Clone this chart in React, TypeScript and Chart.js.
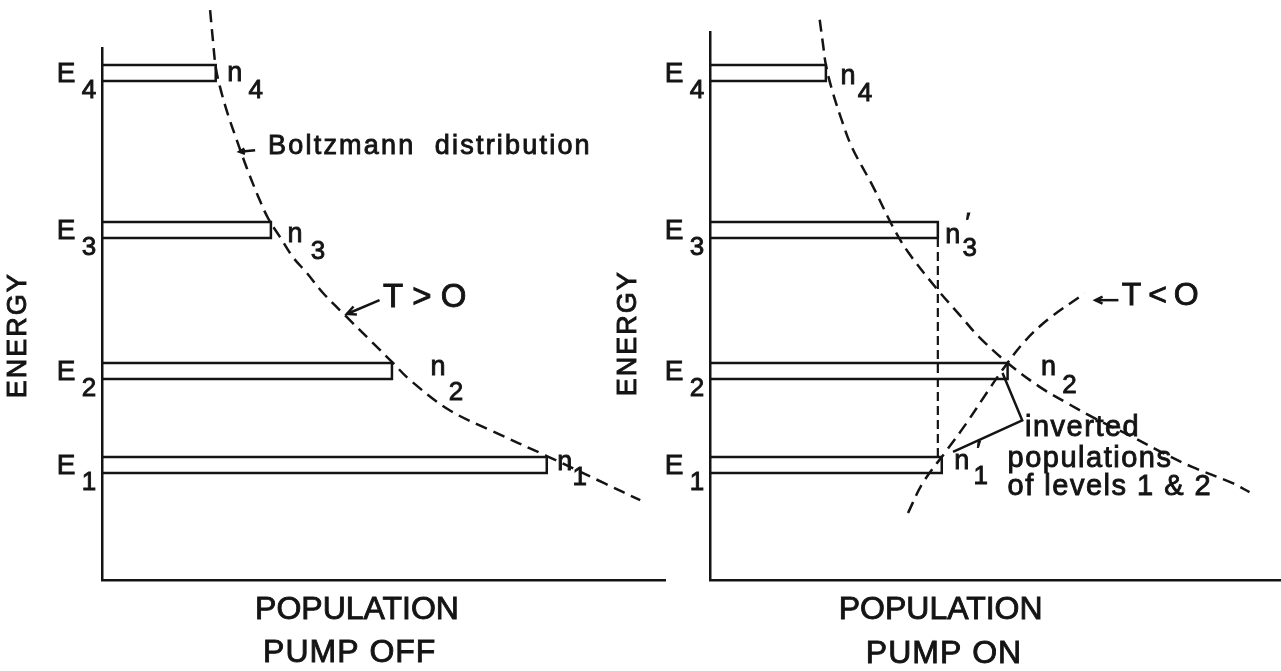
import React, { useEffect, useRef } from 'react';
import { Chart, registerables } from 'chart.js';

Chart.register(...registerables);

// ---------- data ----------
const levelSubscripts = ['1', '2', '3', '4'];
const levelEnergy = [2.16, 3.93, 6.58, 9.53];
const popPumpOff = [7.9, 5.15, 3.0, 2.02];
const popPumpOn = [4.12, 5.29, 4.05, 2.06];

const boltzOffX = [1.92, 1.97, 2.02, 2.1, 2.24, 2.4, 2.57, 2.77, 2.95, 3.16, 3.39, 3.64, 3.93, 4.35, 4.76, 5.15, 5.47, 6.16, 6.89, 7.9, 8.92, 9.56];
const boltzOffY = [10.71, 10.15, 9.64, 9.25, 8.74, 8.25, 7.75, 7.22, 6.8, 6.45, 6.07, 5.77, 5.39, 4.94, 4.51, 4.1, 3.76, 3.2, 2.82, 2.33, 1.82, 1.5];

const boltzOnX = [1.95, 2.01, 2.06, 2.17, 2.34, 2.52, 2.9, 3.25, 3.53, 4.05, 4.44, 4.78, 5.29, 5.86, 6.34, 6.8, 7.51, 8.05, 8.58, 9.29, 9.59];
const boltzOnY = [10.53, 10.06, 9.68, 9.21, 8.65, 8.14, 7.39, 6.64, 6.15, 5.45, 4.98, 4.57, 4.08, 3.63, 3.33, 3.06, 2.69, 2.39, 2.12, 1.82, 1.65];

const invertedX = [3.52, 3.78, 4.21, 4.56, 4.92, 5.2, 5.58, 6.0, 6.66];
const invertedY = [1.26, 1.82, 2.44, 2.95, 3.52, 3.95, 4.47, 4.89, 5.39];

const bracketX = [5.2, 5.55, 4.32];
const bracketY = [3.89, 3.0, 2.41];

// ---------- style ----------
const INK = '#141414';
const FONT = '"Liberation Sans", Arial, sans-serif';
const LEVEL_HALF = 0.15;

type Note =
  | { kind: 'text'; text: string; x: number; y: number; dx?: number; dy?: number; size: number; align?: CanvasTextAlign; ls?: number; rotate?: number }
  | { kind: 'arrow'; x1: number; y1: number; x2: number; y2: number; head?: number };

function notesPlugin(notes: Note[]) {
  return {
    id: 'notes',
    afterDatasetsDraw(chart: any) {
      const { ctx } = chart;
      const xs = chart.scales.x;
      const ys = chart.scales.y;
      ctx.save();
      ctx.fillStyle = INK;
      ctx.strokeStyle = INK;
      for (const n of notes) {
        if (n.kind === 'arrow') {
          const x1 = xs.getPixelForValue(n.x1);
          const y1 = ys.getPixelForValue(n.y1);
          const x2 = xs.getPixelForValue(n.x2);
          const y2 = ys.getPixelForValue(n.y2);
          const a = Math.atan2(y2 - y1, x2 - x1);
          const h = n.head ?? 9;
          ctx.lineWidth = 2.5;
          ctx.setLineDash([]);
          ctx.beginPath();
          ctx.moveTo(x1, y1);
          ctx.lineTo(x2, y2);
          ctx.stroke();
          ctx.beginPath();
          ctx.moveTo(x2 - h * Math.cos(a - 0.45), y2 - h * Math.sin(a - 0.45));
          ctx.lineTo(x2, y2);
          ctx.lineTo(x2 - h * Math.cos(a + 0.45), y2 - h * Math.sin(a + 0.45));
          ctx.stroke();
        } else {
          const px = xs.getPixelForValue(n.x) + (n.dx || 0);
          const py = ys.getPixelForValue(n.y) + (n.dy || 0);
          ctx.font = `${n.size}px ${FONT}`;
          (ctx as any).letterSpacing = `${n.ls || 0}px`;
          ctx.textAlign = n.align || 'center';
          ctx.textBaseline = 'middle';
          ctx.lineWidth = 0.9;
          ctx.setLineDash([]);
          ctx.save();
          ctx.translate(px, py);
          if (n.rotate) ctx.rotate(n.rotate);
          ctx.fillText(n.text, 0, 0);
          ctx.strokeText(n.text, 0, 0);
          ctx.restore();
        }
      }
      ctx.restore();
    },
  };
}

function levelDatasets(pops: number[]) {
  return pops.map((n, i) => ({
    data: [
      { x: 0, y: levelEnergy[i] + LEVEL_HALF },
      { x: n, y: levelEnergy[i] + LEVEL_HALF },
      { x: n, y: levelEnergy[i] - LEVEL_HALF },
      { x: 0, y: levelEnergy[i] - LEVEL_HALF },
    ],
    showLine: true,
    borderColor: INK,
    borderWidth: 2.5,
    pointRadius: 0,
    tension: 0,
    fill: false,
    clip: false as any,
  }));
}

function curveDataset(xs: number[], ys: number[], dash: number[], width = 2.5, tension = 0.35) {
  return {
    data: xs.map((x, i) => ({ x, y: ys[i] })),
    showLine: true,
    borderColor: INK,
    borderWidth: width,
    borderDash: dash,
    pointRadius: 0,
    tension,
    fill: false,
    clip: false as any,
  };
}

function levelLabelNotes(pops: number[], nOffsets: number[][], primes: boolean[]): Note[] {
  const out: Note[] = [];
  levelEnergy.forEach((e, i) => {
    out.push({ kind: 'text', text: 'E', x: 0, y: e, dx: -36, dy: 1, size: 28 });
    out.push({ kind: 'text', text: levelSubscripts[i], x: 0, y: e, dx: -13, dy: 18, size: 26 });
    const [ndx, ndy, sdx, sdy] = nOffsets[i];
    out.push({ kind: 'text', text: 'n', x: pops[i], y: e, dx: ndx, dy: ndy, size: 27 });
    out.push({ kind: 'text', text: levelSubscripts[i], x: pops[i], y: e, dx: sdx, dy: sdy, size: 26 });
    if (primes[i]) out.push({ kind: 'text', text: '\u2032', x: pops[i], y: e, dx: sdx - 2, dy: sdy - 25, size: 26 });
  });
  return out;
}

interface PanelProps {
  left: number;
  width: number;
  padding: { left: number; right: number; top: number; bottom: number };
  xMax: number;
  yMax: number;
  build: () => { datasets: any[]; notes: Note[] };
}

function Panel({ left, width, padding, xMax, yMax, build }: PanelProps) {
  const ref = useRef<HTMLCanvasElement>(null);
  useEffect(() => {
    const { datasets, notes } = build();
    const axis = (isX: boolean, max: number) => ({
      type: 'linear' as const,
      min: 0,
      max,
      ticks: { display: false },
      grid: { display: true, drawOnChartArea: false, drawTicks: false },
      border: { display: true, color: INK, width: 2.5 },
      afterFit: (s: any) => {
        if (isX) s.height = 0;
        else s.width = 0;
      },
    });
    const chart = new Chart(ref.current!, {
      type: 'scatter',
      data: { datasets },
      options: {
        animation: false,
        responsive: false,
        devicePixelRatio: 1,
        events: [],
        layout: { padding },
        plugins: { legend: { display: false }, tooltip: { enabled: false } },
        scales: { x: axis(true, xMax), y: axis(false, yMax) },
      },
      plugins: [notesPlugin(notes)],
    });
    return () => chart.destroy();
  }, []);
  return <canvas ref={ref} width={width} height={671} style={{ position: 'absolute', left, top: 0 }} />;
}

function buildOff() {
  const datasets = [
    ...levelDatasets(popPumpOff),
    curveDataset(boltzOffX, boltzOffY, [12, 7]),
  ];
  const notes: Note[] = [
    ...levelLabelNotes(
      popPumpOff,
      [
        [18, -3, 33, 13],
        [46, -3, 64, 22],
        [24, 5, 47, 22],
        [19, 1, 40, 18],
      ],
      [false, false, false, false]
    ),
    { kind: 'text', text: 'ENERGY', x: 0, y: 4.6, dx: -83, size: 27, ls: 2, rotate: -Math.PI / 2 },
    { kind: 'text', text: 'POPULATION', x: 4.53, y: 0, dy: 30, size: 32 },
    { kind: 'text', text: 'PUMP OFF', x: 4.4, y: 0, dy: 73, size: 32, ls: 1 },
    { kind: 'text', text: 'Boltzmann  distribution', x: 2.95, y: 8.14, size: 27, align: 'left', ls: 2.2 },
    { kind: 'arrow', x1: 2.72, y1: 8.08, x2: 2.44, y2: 8.05, head: 6 },
    { kind: 'text', text: 'T > O', x: 4.99, y: 5.3, size: 33, align: 'left' },
    { kind: 'arrow', x1: 4.93, y1: 5.26, x2: 4.35, y2: 5.0, head: 10 },
  ];
  return { datasets, notes };
}

function buildOn() {
  const datasets = [
    ...levelDatasets(popPumpOn),
    curveDataset(boltzOnX, boltzOnY, [12, 7]),
    curveDataset(invertedX, invertedY, [12, 7]),
    curveDataset(
      [popPumpOn[2], popPumpOn[2]],
      [levelEnergy[2] - LEVEL_HALF, levelEnergy[0] + LEVEL_HALF],
      [9, 5],
      2.2,
      0
    ),
    {
      data: bracketX.map((x, i) => ({ x, y: bracketY[i] })),
      showLine: true,
      borderColor: INK,
      borderWidth: 2.5,
      pointRadius: 0,
      tension: 0,
      fill: false,
    },
  ];
  const notes: Note[] = [
    ...levelLabelNotes(
      popPumpOn,
      [
        [20, -4, 39, 12],
        [41, -3, 62, 15],
        [15, 6, 32, 19],
        [22, 4, 39, 21],
      ],
      [true, false, true, false]
    ),
    { kind: 'text', text: 'ENERGY', x: 0, y: 4.64, dx: -81, size: 27, ls: 2, rotate: -Math.PI / 2 },
    { kind: 'text', text: 'POPULATION', x: 4.1, y: 0, dy: 30, size: 32 },
    { kind: 'text', text: 'PUMP ON', x: 4.16, y: 0, dy: 74, size: 32, ls: 1 },
    { kind: 'text', text: 'T < O', x: 7.32, y: 5.34, size: 32, align: 'left', ls: -1 },
    { kind: 'arrow', x1: 7.26, y1: 5.26, x2: 6.85, y2: 5.26, head: 8 },
    { kind: 'text', text: 'inverted', x: 5.6, y: 2.86, size: 29, align: 'left', ls: 1.5 },
    { kind: 'text', text: 'populations', x: 5.29, y: 2.27, size: 29, align: 'left', ls: 1.5 },
    { kind: 'text', text: 'of levels 1 & 2', x: 5.29, y: 1.75, size: 29, align: 'left', ls: 1.5 },
  ];
  return { datasets, notes };
}

export default function App() {
  return (
    <div style={{ position: 'absolute', left: 0, top: 0, width: 1281, height: 671, background: '#fff', overflow: 'hidden' }}>
      <Panel left={0} width={670} padding={{ left: 102, right: 5, top: 48, bottom: 91 }} xMax={10} yMax={10} build={buildOff} />
      <Panel left={600} width={681} padding={{ left: 110, right: 0, top: 32, bottom: 91 }} xMax={10.15} yMax={10.3} build={buildOn} />
    </div>
  );
}
